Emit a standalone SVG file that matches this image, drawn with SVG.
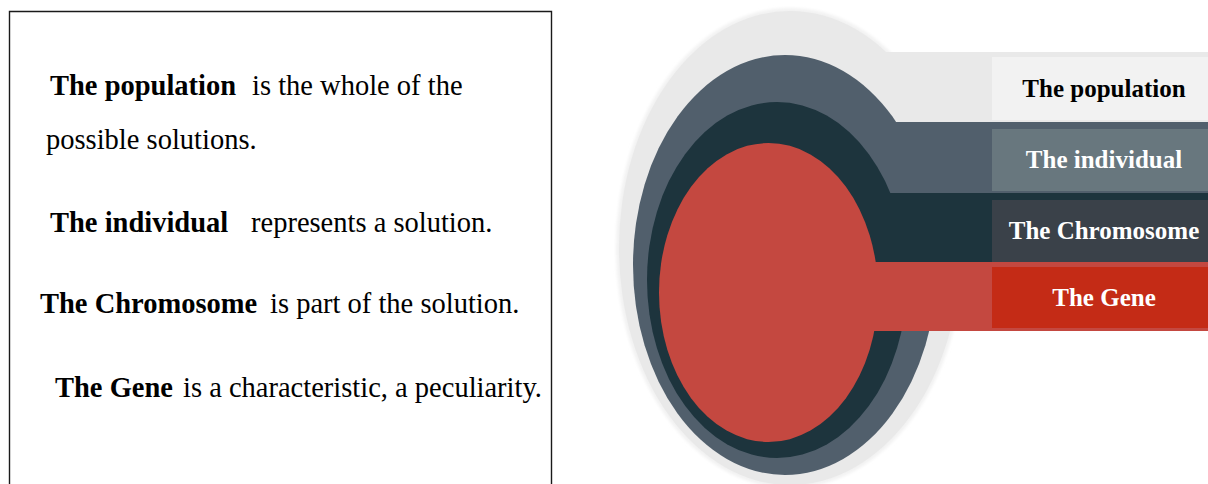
<svg xmlns="http://www.w3.org/2000/svg" width="1208" height="484" viewBox="0 0 1208 484">
<style>
text{font-family:"Liberation Serif","Times New Roman",serif}
.b{font-weight:bold}
.t{font-size:28.5px;fill:#000}
.lab{font-size:25px;font-weight:bold;text-anchor:middle}
</style>
<defs>
<filter id="soft" x="-10%" y="-10%" width="120%" height="120%"><feGaussianBlur stdDeviation="1.5"/></filter>
</defs>
<rect width="1208" height="484" fill="#fff"/>
<g id="textbox">
<path d="M9.5,484 V11.5 H551.5 V484" fill="none" stroke="#1a1a1a" stroke-width="1.4"/>
<text class="t" y="95"><tspan x="50" class="b">The population</tspan><tspan x="252">is the whole of the</tspan></text>
<text class="t" x="46" y="149">possible solutions.</text>
<text class="t" y="232"><tspan x="50" class="b">The individual</tspan><tspan x="251">represents a solution.</tspan></text>
<text class="t" y="313"><tspan x="40" class="b">The Chromosome</tspan><tspan x="270">is part of the solution.</tspan></text>
<text class="t" y="397"><tspan x="55" class="b">The Gene</tspan><tspan x="183">is a characteristic, a peculiarity.</tspan></text>
</g>
<g id="population">
<ellipse cx="790" cy="248" rx="174" ry="240" fill="#f2f2f2" filter="url(#soft)"/>
<ellipse cx="790" cy="248" rx="171" ry="237" fill="#e9e9e9"/>
<rect x="790" y="52" width="418" height="70" fill="#e9e9e9"/>
</g>
<g id="individual">
<ellipse cx="785" cy="265" rx="152" ry="210" fill="#515f6c"/>
<rect x="785" y="122" width="423" height="71" fill="#515f6c"/>
</g>
<g id="chromosome">
<ellipse cx="777" cy="280" rx="130" ry="178" fill="#1d343d"/>
<rect x="777" y="193" width="431" height="69" fill="#1d343d"/>
</g>
<g id="gene">
<ellipse cx="768.5" cy="292.5" rx="109.5" ry="149.5" fill="#c44840"/>
<rect x="768" y="262" width="440" height="69" fill="#c44840"/>
</g>
<g id="connectors"></g>
<g id="labels">
<g id="label-population">
<rect x="992" y="57" width="216" height="63" fill="#f2f2f2"/>
<text class="lab" x="1104" y="97" fill="#000">The population</text>
</g>
<g id="label-individual">
<rect x="992" y="129" width="216" height="62" fill="#68777e"/>
<text class="lab" x="1104" y="168" fill="#fff">The individual</text>
</g>
<g id="label-chromosome">
<rect x="992" y="200" width="216" height="62" fill="#3a4149"/>
<text class="lab" x="1104" y="239" fill="#fff">The Chromosome</text>
</g>
<g id="label-gene">
<rect x="992" y="267" width="216" height="61" fill="#c42b16"/>
<text class="lab" x="1104" y="306" fill="#fff">The Gene</text>
</g>
</g>
</svg>
